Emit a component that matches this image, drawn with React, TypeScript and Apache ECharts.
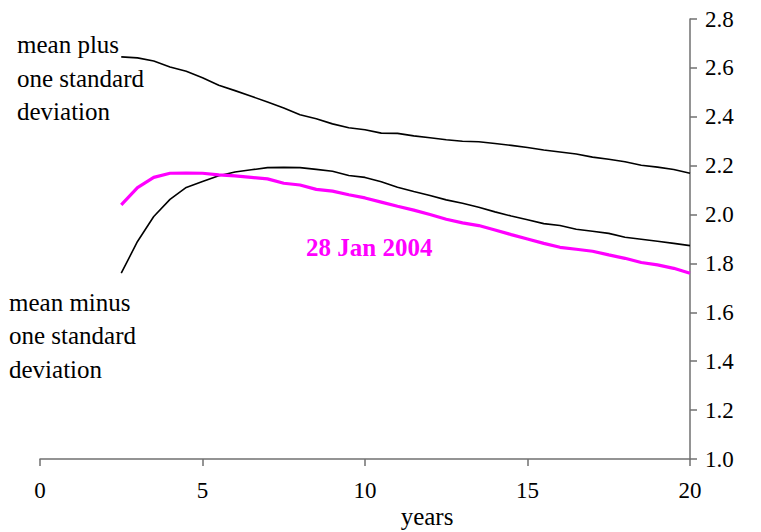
import React, { useEffect, useRef } from "react";
import * as echarts from "echarts";

const years = [
  2.5, 3, 3.5, 4, 4.5, 5, 5.5, 6, 6.5, 7, 7.5, 8, 8.5, 9, 9.5, 10, 10.5, 11,
  11.5, 12, 12.5, 13, 13.5, 14, 14.5, 15, 15.5, 16, 16.5, 17, 17.5, 18, 18.5,
  19, 19.5, 20,
];

const meanPlusSD = [
  2.645, 2.641, 2.628, 2.604, 2.586, 2.56, 2.529, 2.507, 2.484, 2.46, 2.436,
  2.408, 2.392, 2.371, 2.355, 2.347, 2.333, 2.332, 2.322, 2.314, 2.306, 2.3,
  2.298, 2.291, 2.283, 2.274, 2.264, 2.256, 2.248, 2.235, 2.226, 2.216, 2.202,
  2.194, 2.184, 2.169,
];

const meanMinusSD = [
  1.76, 1.89, 1.992, 2.062, 2.111, 2.135, 2.159, 2.174, 2.183, 2.192, 2.193,
  2.192, 2.185, 2.177, 2.16, 2.152, 2.134, 2.112, 2.094, 2.078, 2.06, 2.046,
  2.03, 2.011, 1.994, 1.979, 1.963, 1.955, 1.94, 1.932, 1.923, 1.907, 1.899,
  1.891, 1.882, 1.873,
];

const jan2004 = [
  2.04, 2.11, 2.152, 2.169, 2.17, 2.169, 2.162, 2.158, 2.152, 2.146, 2.128,
  2.121, 2.103, 2.096, 2.081, 2.068, 2.051, 2.034, 2.018, 2.0, 1.981, 1.966,
  1.955, 1.937, 1.918, 1.9, 1.882, 1.866, 1.858, 1.85, 1.835, 1.821, 1.804,
  1.794, 1.78, 1.76,
];

const FONT = "'Liberation Serif', 'Times New Roman', serif";

export default function App() {
  const ref = useRef<HTMLDivElement>(null);

  useEffect(() => {
    if (!ref.current) return;
    const chart = echarts.init(ref.current, null, { renderer: "svg" });
    const pairs = (vals: number[]) => years.map((y, i) => [y, vals[i]]);
    const axisColor = "#707070";
    chart.setOption({
      animation: false,
      backgroundColor: "#ffffff",
      grid: { left: 40, right: 71, top: 19, bottom: 73, containLabel: false },
      xAxis: {
        type: "value",
        min: 0,
        max: 20,
        interval: 5,
        axisLine: { show: true, onZero: false, lineStyle: { color: axisColor, width: 1.5 } },
        axisTick: { show: true, length: 7, lineStyle: { color: axisColor, width: 1.5 } },
        axisLabel: { margin: 20, fontSize: 23, color: "#000", fontFamily: FONT },
        splitLine: { show: false },
      },
      yAxis: {
        type: "value",
        position: "right",
        min: 1,
        max: 2.8,
        interval: 0.2,
        axisLine: { show: true, onZero: false, lineStyle: { color: axisColor, width: 1.5 } },
        axisTick: { show: true, length: 7, lineStyle: { color: axisColor, width: 1.5 } },
        axisLabel: {
          margin: 15,
          fontSize: 23,
          color: "#000",
          fontFamily: FONT,
          formatter: (v: number) => v.toFixed(1),
        },
        splitLine: { show: false },
      },
      series: [
        {
          name: "mean plus one standard deviation",
          type: "line",
          data: pairs(meanPlusSD),
          showSymbol: false,
          lineStyle: { color: "#000", width: 1.6 },
        },
        {
          name: "mean minus one standard deviation",
          type: "line",
          data: pairs(meanMinusSD),
          showSymbol: false,
          lineStyle: { color: "#000", width: 1.6 },
        },
        {
          name: "28 Jan 2004",
          type: "line",
          data: pairs(jan2004),
          showSymbol: false,
          lineStyle: { color: "#ff00ff", width: 3.2 },
        },
      ],
      graphic: [
        {
          type: "text",
          left: 17,
          top: 28,
          style: {
            text: "mean plus\none standard\ndeviation",
            font: `25px ${FONT}`,
            lineHeight: 33.5,
            fill: "#000",
          },
        },
        {
          type: "text",
          left: 9,
          top: 286,
          style: {
            text: "mean minus\none standard\ndeviation",
            font: `25px ${FONT}`,
            lineHeight: 33.2,
            fill: "#000",
          },
        },
        {
          type: "text",
          x: 306,
          y: 247,
          style: {
            text: "28 Jan 2004",
            font: `bold 25px ${FONT}`,
            fill: "#ff00ff",
            verticalAlign: "middle",
            align: "left",
          },
        },
        {
          type: "text",
          x: 427,
          y: 516,
          style: {
            text: "years",
            font: `25px ${FONT}`,
            fill: "#000",
            verticalAlign: "middle",
            align: "center",
          },
        },
      ],
    });
    return () => chart.dispose();
  }, []);

  return (
    <div
      ref={ref}
      style={{ position: "fixed", left: 0, top: 0, width: 761, height: 532 }}
    />
  );
}
